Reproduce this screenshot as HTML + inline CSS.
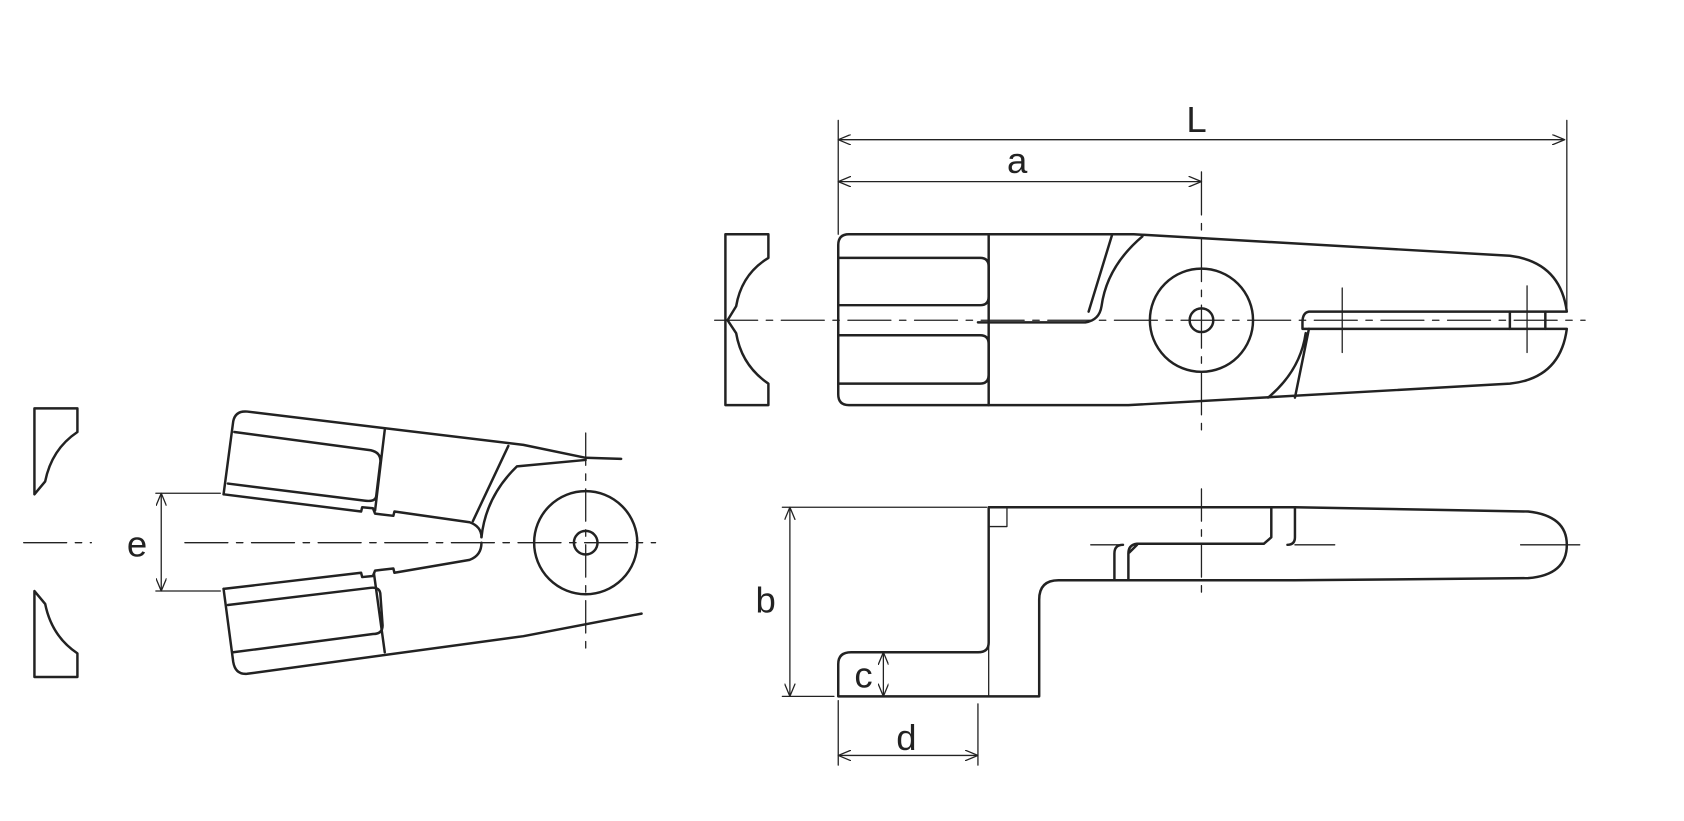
<!DOCTYPE html>
<html><head><style>html,body{margin:0;padding:0;background:#fff}svg{display:block}</style></head>
<body>
<svg width="1684" height="821" viewBox="0 0 1567 764" xmlns="http://www.w3.org/2000/svg" fill="none" stroke="#222" stroke-linecap="round" stroke-linejoin="round">
<defs>
<marker id="ar" viewBox="0 0 12 10" refX="12" refY="5" markerWidth="12" markerHeight="10" markerUnits="userSpaceOnUse" orient="auto-start-reverse"><path d="M0,0 L12,5 L0,10" stroke="#222" stroke-width="1.2" fill="none"/></marker>
</defs>
<g font-family="Liberation Sans, sans-serif" font-size="34" fill="#222" stroke="none">
<text x="1104" y="123">L</text><text x="937" y="161">a</text>
<text x="703" y="570">b</text><text x="795" y="640">c</text>
<text x="834" y="698">d</text><text x="118" y="518">e</text>
</g>
<g stroke-width="1.2">
<path d="M665 298H1475" stroke-dasharray="40 8 6 8"/>
<path d="M1118 160V400" stroke-dasharray="40 8 6 8"/>
<path d="M1249 268V328M1421 266V328"/>
<path d="M1015 507H1045M1205 507H1242M1415 507H1470"/>
<path d="M1118 455V555" stroke-dasharray="30 8 6 8"/>
<path d="M22 505H85M172 505H610" stroke-dasharray="40 8 6 8"/>
<path d="M545 403V607" stroke-dasharray="30 8 6 8"/>
<path d="M780 112V218M1458 112V290"/>
<path d="M780 130H1456" marker-start="url(#ar)" marker-end="url(#ar)"/>
<path d="M780 169H1118" marker-start="url(#ar)" marker-end="url(#ar)"/>
<path d="M728 472H918M728 648H776"/>
<path d="M735 472V648" marker-start="url(#ar)" marker-end="url(#ar)"/>
<path d="M822 607V648" marker-start="url(#ar)" marker-end="url(#ar)"/>
<path d="M780 652V712M910 655V712"/>
<path d="M780 703H910" marker-start="url(#ar)" marker-end="url(#ar)"/>
<path d="M145 459H205M145 550H205"/>
<path d="M150 459V550" marker-start="url(#ar)" marker-end="url(#ar)"/>
<path d="M920 490H937V472M920 598V648"/>
</g>
<g stroke-width="2.3">
<path d="M675 218H715V240Q690 255 685 285L677 298L685 310Q690 340 715 357V377H675Z"/>
<path d="M790 218H1055L1405 238Q1452 244 1458 290H1218Q1212 291 1212 300V306H1458Q1452 352 1405 357L1050 377H790Q780 377 780 367V228Q780 218 790 218Z"/>
<path d="M920 218V377"/>
<path d="M780 240H912Q920 240 920 248V276Q920 284 912 284H780M780 312H912Q920 312 920 320V349Q920 357 912 357H780"/>
<path d="M1035 218L1013 290M1063 220Q1030 248 1025 285Q1023 298 1010 300H910"/>
<path d="M1218 306L1205 370M1215 310Q1210 345 1180 370"/>
<path d="M1405 290V306M1438 290V306"/>
<circle cx="1118" cy="298" r="48"/><circle cx="1118" cy="298" r="11"/>
<path d="M920 472H1205L1422 476Q1458 480 1458 507Q1458 535 1422 538L1205 540H985Q967 540 967 558V648H780V618Q780 607 792 607H910Q920 607 920 598Z"/>
<path d="M1183 472V500L1176 506H1058Q1050 507 1050 515V540M1205 472V500Q1205 507 1198 507M1058 507L1051 514M1045 507Q1037 507 1037 515V540"/>
<path d="M32 380H72V402Q48 418 42 448L32 460Z"/>
<path d="M32 630H72V608Q48 592 42 562L32 550Z"/>
<path d="M208 460L217 392Q219 382 230 383L487 414L545 426L578 427"/>
<path d="M545 428L481 434Q452 462 448 500"/>
<path d="M208 460L336 476L337 472L347 473L349 478L366 480L367 476L437 486Q448 490 448 500"/>
<path d="M218 402L345 419Q354 421 354 429L350 462Q349 467 340 466L212 450"/>
<path d="M358 400L349 475M473 415L440 485"/>
<path d="M208 548L217 616Q219 628 230 627L487 592L597 571"/>
<path d="M208 548L336 533L337 537L347 536L349 531L366 529L367 533L437 521Q448 517 448 505"/>
<path d="M212 563L345 547Q354 546 354 554L356 582Q356 590 347 590L217 607"/>
<path d="M348 534L358 607"/>
<circle cx="545" cy="505" r="48"/><circle cx="545" cy="505" r="11"/>
</g>
</svg>
</body></html>
